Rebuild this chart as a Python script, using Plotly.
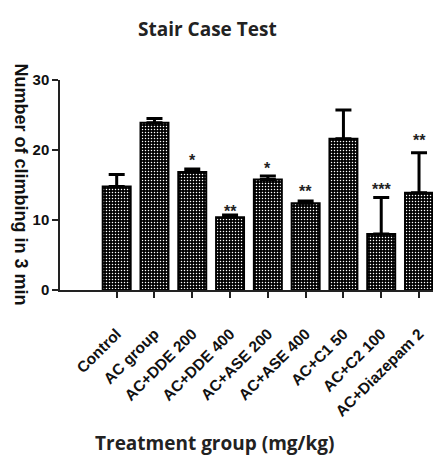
import plotly.graph_objects as go

categories = ["Control", "AC group", "AC+DDE 200", "AC+DDE 400", "AC+ASE 200",
              "AC+ASE 400", "AC+C1 50", "AC+C2 100", "AC+Diazepam 2"]
means = [14.8, 23.9, 16.85, 10.4, 15.8, 12.4, 21.6, 8.0, 13.9]
sem_up = [1.7, 0.6, 0.45, 0.3, 0.5, 0.3, 4.1, 5.2, 5.7]
stars = ["", "", "*", "**", "*", "**", "", "***", "**"]
star_y = [0, 0, 19.1, 11.8, 17.9, 14.6, 0, 14.9, 22.0]
y_ticks = [0, 10, 20, 30]

W, H = 440, 462
L, R, T, B = 60, 7, 80, 172
pw, ph = W - L - R, H - T - B

def px_x(p):
    return (p - L) / pw

def px_y(p):
    return (H - B - p) / ph

fig = go.Figure()
fig.add_trace(go.Bar(
    x=categories, y=means, width=0.74,
    marker=dict(color="black", line=dict(color="black", width=2),
                pattern=dict(shape=".", fgcolor="white", bgcolor="black",
                             fillmode="replace", size=3, solidity=0.2)),
    error_y=dict(type="data", symmetric=False, array=sem_up,
                 arrayminus=[0] * len(means), color="black", thickness=3, width=8),
))

for c, s, yv in zip(categories, stars, star_y):
    if s:
        fig.add_annotation(x=c, y=yv, text=s, showarrow=False, yshift=-4,
                           xanchor="center", yanchor="middle",
                           font=dict(family="Liberation Sans", size=16, color="#222", weight="bold"))

bold_arial = dict(family="Liberation Sans", color="#111", weight="bold")
fig.add_annotation(xref="paper", yref="paper", x=px_x(207.5), y=px_y(29), text="Stair Case Test",
                   xanchor="center", yanchor="middle", showarrow=False,
                   font=dict(family="Open Sans", size=19, color="#222", weight="bold"))
fig.add_annotation(xref="paper", yref="paper", x=px_x(214), y=px_y(443), text="Treatment group (mg/kg)",
                   xanchor="center", yanchor="middle", showarrow=False,
                   font=dict(family="Open Sans", size=19, color="#222", weight="bold"))
fig.add_annotation(xref="paper", yref="paper", x=px_x(21), y=px_y(184.5), text="Number of climbing in 3 min",
                   xanchor="center", yanchor="middle", textangle=90, showarrow=False,
                   font=dict(size=18, **bold_arial))

fig.update_layout(
    width=W, height=H, margin=dict(l=L, r=R, t=T, b=B, autoexpand=False),
    paper_bgcolor="white", plot_bgcolor="white", showlegend=False,
    xaxis=dict(range=[-1.5, 8.37], showgrid=False, showline=True, linecolor="#222", linewidth=1.5,
               ticks="outside", ticklen=6, tickcolor="#222", tickwidth=1.5,
               tickangle=-45, tickfont=dict(size=15.5, **bold_arial), ticklabelstandoff=21),
    yaxis=dict(range=[0, 30], tickvals=y_ticks, showgrid=False, zeroline=False, showline=True,
               linecolor="#222", linewidth=1.5, ticks="outside", ticklen=6, tickcolor="#222",
               tickwidth=1.5, tickfont=dict(size=15, **bold_arial)),
)

fig.write_html("out.html")
